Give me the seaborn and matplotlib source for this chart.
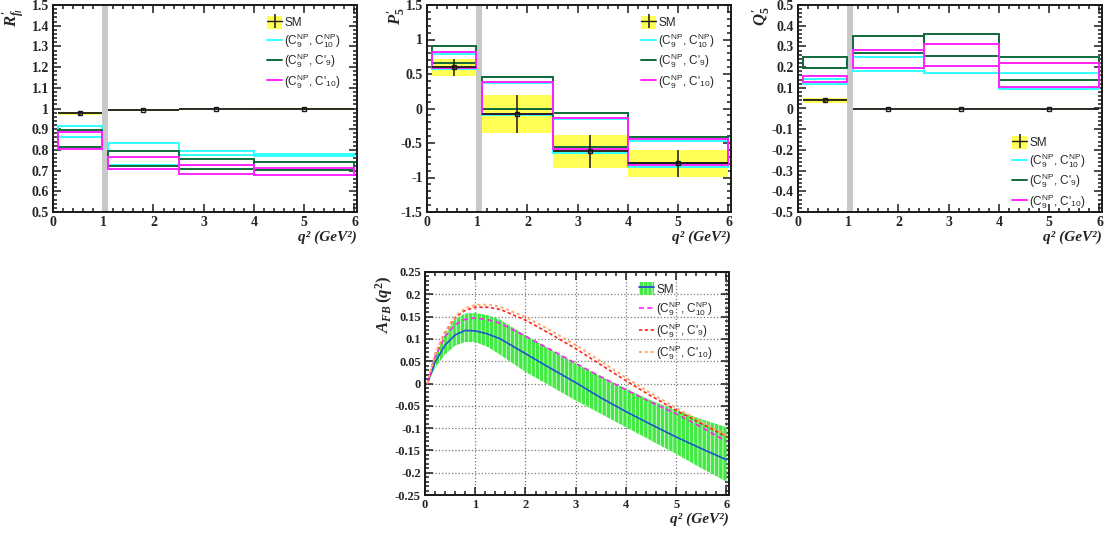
import numpy as np
import matplotlib
matplotlib.use('Agg')
import matplotlib.pyplot as plt
import seaborn as sns
from matplotlib.patches import Rectangle, Patch
from matplotlib.lines import Line2D
from matplotlib.ticker import MultipleLocator, FuncFormatter

sns.set_theme(style='ticks')
plt.rcParams['font.family'] = ['Liberation Serif', 'DejaVu Serif']
plt.rcParams['mathtext.fontset'] = 'custom'
plt.rcParams['mathtext.rm'] = 'Liberation Serif:bold'
plt.rcParams['mathtext.it'] = 'Liberation Serif:italic:bold'
plt.rcParams['mathtext.bf'] = 'Liberation Serif:bold'
plt.rcParams['mathtext.sf'] = 'Liberation Sans'
plt.rcParams['hatch.linewidth'] = 0.5
plt.rcParams['axes.unicode_minus'] = False

# q^2 bins
bin_lo = [0.1, 1.1, 2.5, 4.0]
bin_hi = [0.98, 2.5, 4.0, 6.0]
bin_mid = [0.54, 1.8, 3.25, 5.0]

# R'_{f_l}
rf_sm = [0.977, 0.994, 0.996, 0.997]
rf_sm_lo = [0.971, 0.990, 0.992, 0.993]
rf_sm_hi = [0.983, 0.998, 1.000, 1.001]
rf_c10_lo = [0.861, 0.727, 0.775, 0.771]
rf_c10_hi = [0.917, 0.832, 0.796, 0.780]
rf_c9p_lo = [0.816, 0.724, 0.708, 0.701]
rf_c9p_hi = [0.896, 0.795, 0.755, 0.740]
rf_c10p_lo = [0.803, 0.706, 0.685, 0.680]
rf_c10p_hi = [0.885, 0.764, 0.726, 0.711]

# P'_5
p5_sm = [0.606, -0.08, -0.616, -0.795]
p5_sm_lo = [0.471, -0.36, -0.867, -0.988]
p5_sm_hi = [0.713, 0.191, -0.384, -0.601]
p5_c10_lo = [0.577, -0.09, -0.64, -0.853]
p5_c10_hi = [0.795, 0.365, -0.157, -0.471]
p5_c9p_lo = [0.655, -0.007, -0.553, -0.795]
p5_c9p_hi = [0.90, 0.461, -0.07, -0.418]
p5_c10p_lo = [0.587, -0.08, -0.591, -0.82]
p5_c10p_hi = [0.814, 0.384, -0.133, -0.447]

# Q'_5
q5_sm = [0.039, -0.004, -0.004, -0.004]
q5_sm_lo = [0.027, -0.008, -0.008, -0.008]
q5_sm_hi = [0.051, 0.0, 0.0, 0.0]
q5_c10_lo = [0.117, 0.183, 0.173, 0.094]
q5_c10_hi = [0.141, 0.250, 0.205, 0.170]
q5_c9p_lo = [0.196, 0.267, 0.252, 0.138]
q5_c9p_hi = [0.250, 0.350, 0.358, 0.250]
q5_c10p_lo = [0.130, 0.197, 0.205, 0.105]
q5_c10p_hi = [0.157, 0.283, 0.310, 0.218]

# A_FB(q^2)
afb_q2 = [0.05, 0.2, 0.4, 0.6, 0.8, 1.0, 1.25, 1.5, 2.0, 2.5, 3.0, 3.5, 4.0, 4.5, 5.0, 5.5, 6.0]
afb_sm = [0.0, 0.048, 0.086, 0.109, 0.119, 0.118, 0.111, 0.100, 0.067, 0.034, 0.002,
          -0.032, -0.063, -0.092, -0.120, -0.146, -0.171]
afb_sm_hi = [0.0, 0.060, 0.110, 0.145, 0.157, 0.158, 0.153, 0.143, 0.108, 0.076, 0.045,
             0.016, -0.012, -0.038, -0.060, -0.080, -0.098]
afb_sm_lo = [0.0, 0.035, 0.065, 0.085, 0.093, 0.093, 0.082, 0.064, 0.026, -0.006, -0.038,
             -0.068, -0.098, -0.128, -0.158, -0.190, -0.220]
afb_c10 = [0.0, 0.060, 0.105, 0.132, 0.144, 0.147, 0.143, 0.135, 0.106, 0.076, 0.045,
           0.015, -0.014, -0.042, -0.068, -0.098, -0.130]
afb_c9p = [0.0, 0.065, 0.115, 0.148, 0.164, 0.171, 0.171, 0.166, 0.142, 0.111, 0.078,
           0.042, 0.006, -0.028, -0.060, -0.090, -0.119]
afb_c10p = [0.0, 0.066, 0.117, 0.151, 0.169, 0.176, 0.177, 0.172, 0.149, 0.119, 0.086,
            0.050, 0.013, -0.022, -0.055, -0.086, -0.116]

labels = ['SM',
          r'(C$_{\mathsf{9}}^{\mathsf{NP}}$, C$_{\mathsf{10}}^{\mathsf{NP}}$)',
          r"(C$_{\mathsf{9}}^{\mathsf{NP}}$, C'$_{\mathsf{9}}$)",
          r"(C$_{\mathsf{9}}^{\mathsf{NP}}$, C'$_{\mathsf{10}}$)"]
np_colors = ['#33ffff', '#0f6a3a', '#ff22ff']
yellow = '#ffff55'
band_green = '#44ea44'

W, H = 1105, 537
fig = plt.figure(figsize=(W / 100, H / 100), dpi=100)


def box(l, t, w, h):
    return [l / W, 1 - (t + h) / H, w / W, h / H]


def tick_fmt(v, pos):
    v = round(v, 4)
    if v == 0:
        return '0'
    return f'{v:g}'


def style_axis(ax, ylim, ymaj, ymin, ylabel, labelx, labely=0.99, tsize=10):
    ax.set_xlim(0, 6.05)
    ax.set_ylim(*ylim)
    ax.xaxis.set_major_locator(MultipleLocator(1))
    ax.xaxis.set_minor_locator(MultipleLocator(0.2))
    ax.yaxis.set_major_locator(MultipleLocator(ymaj))
    ax.yaxis.set_minor_locator(MultipleLocator(ymin))
    ax.xaxis.set_major_formatter(FuncFormatter(tick_fmt))
    ax.yaxis.set_major_formatter(FuncFormatter(tick_fmt))
    ax.tick_params(which='both', direction='in', top=True, right=True, width=1.1,
                   color='k', labelsize=tsize, pad=3)
    ax.tick_params(which='major', length=6)
    ax.tick_params(which='minor', length=3)
    for lab in ax.get_xticklabels() + ax.get_yticklabels():
        lab.set_fontweight('bold')
    for s in ax.spines.values():
        s.set_linewidth(1.4)
        s.set_color('k')
    ax.set_xlabel('q² (GeV²)', loc='right', fontstyle='italic', fontweight='bold',
                  fontsize=11, labelpad=1)
    ax.set_ylabel(ylabel, loc='top', fontsize=12)
    ax.yaxis.set_label_coords(labelx, labely)


def draw_bins(ax, sm, sm_lo, sm_hi, boxes):
    ax.axvspan(0.98, 1.1, color='#c8c8c8', lw=0, zorder=1)
    for lo, hi, ylo, yhi in zip(bin_lo, bin_hi, sm_lo, sm_hi):
        ax.add_patch(Rectangle((lo, ylo), hi - lo, yhi - ylo, facecolor=yellow,
                               edgecolor='none', zorder=2))
    for (blo, bhi), col in zip(boxes, np_colors):
        for lo, hi, y0, y1 in zip(bin_lo, bin_hi, blo, bhi):
            ax.add_patch(Rectangle((lo, y0), hi - lo, y1 - y0, fill=False,
                                   edgecolor=col, lw=1.4, zorder=4))
    ax.hlines(sm, bin_lo, bin_hi, color='k', lw=1.3, zorder=5)
    err = [np.subtract(sm, sm_lo), np.subtract(sm_hi, sm)]
    ax.errorbar(bin_mid, sm, yerr=err, fmt='s', ms=3, mfc='none', mec='k', mew=1,
                ecolor='k', elinewidth=1.1, capsize=0, zorder=6)


def bin_legend(ax, anchor):
    sm_h = (Patch(facecolor=yellow, edgecolor='none'),
            Line2D([], [], color='k', lw=1, marker='|', ms=10, mew=1.1))
    hs = [sm_h] + [Line2D([], [], color=c, lw=1.4) for c in np_colors]
    ax.legend(hs, labels, loc='upper left', bbox_to_anchor=anchor, frameon=False,
              prop={'family': 'Liberation Sans', 'size': 8.5}, handlelength=1.2,
              handleheight=1.3, handletextpad=0.2, labelspacing=0.2,
              borderaxespad=0)


ax1 = fig.add_axes(box(53, 5, 304, 207))
draw_bins(ax1, rf_sm, rf_sm_lo, rf_sm_hi,
          [(rf_c10_lo, rf_c10_hi), (rf_c9p_lo, rf_c9p_hi), (rf_c10p_lo, rf_c10p_hi)])
style_axis(ax1, (0.5, 1.5), 0.1, 0.02, r"$R^{\prime}_{f_{l}}$", -0.09, 0.985)
bin_legend(ax1, (0.69, 0.97))

ax2 = fig.add_axes(box(427, 5, 304, 207))
draw_bins(ax2, p5_sm, p5_sm_lo, p5_sm_hi,
          [(p5_c10_lo, p5_c10_hi), (p5_c9p_lo, p5_c9p_hi), (p5_c10p_lo, p5_c10p_hi)])
style_axis(ax2, (-1.5, 1.5), 0.5, 0.1, r"$P^{\prime}_{\mathit{5}}$", -0.063)
bin_legend(ax2, (0.69, 0.97))

ax3 = fig.add_axes(box(798, 5, 304, 207))
draw_bins(ax3, q5_sm, q5_sm_lo, q5_sm_hi,
          [(q5_c10_lo, q5_c10_hi), (q5_c9p_lo, q5_c9p_hi), (q5_c10p_lo, q5_c10p_hi)])
style_axis(ax3, (-0.5, 0.5), 0.1, 0.02, r"$Q^{\prime}_{\mathit{5}}$", -0.082)
bin_legend(ax3, (0.69, 0.39))

ax4 = fig.add_axes(box(425, 272, 304, 223))
ax4.grid(True, which='major', ls=':', color='#777777', lw=0.9, zorder=0)
ax4.fill_between(afb_q2, afb_sm_lo, afb_sm_hi, facecolor=band_green, edgecolor='white',
                 hatch='||||', lw=0, zorder=2)
sns.lineplot(x=afb_q2, y=afb_sm, ax=ax4, color='#1f55d0', lw=1.2, zorder=5)
sns.lineplot(x=afb_q2, y=afb_c10, ax=ax4, color='#ff22ff', lw=1.2, linestyle=(0, (3, 2)), zorder=6)
sns.lineplot(x=afb_q2, y=afb_c9p, ax=ax4, color='#ff2222', lw=1.2, linestyle=(0, (2, 1.5)), zorder=6)
sns.lineplot(x=afb_q2, y=afb_c10p, ax=ax4, color='#ffaa66', lw=1.4, linestyle=(0, (1.5, 1.5)), zorder=6)
style_axis(ax4, (-0.25, 0.25), 0.05, 0.01, r"$A_{FB}\,(q^{\mathit{2}})$", -0.1, 0.985, 9)
ax4.set_axisbelow(True)
hs4 = [(Patch(facecolor=band_green, edgecolor='white', hatch='||||', lw=0),
        Line2D([], [], color='#1f55d0', lw=1.3)),
       Line2D([], [], color='#ff22ff', lw=1.2, ls=(0, (3, 2))),
       Line2D([], [], color='#ff2222', lw=1.2, ls=(0, (2, 1.5))),
       Line2D([], [], color='#ffaa66', lw=1.4, ls=(0, (1.5, 1.5)))]
ax4.legend(hs4, labels, loc='upper left', bbox_to_anchor=(0.69, 0.975), frameon=False,
           prop={'family': 'Liberation Sans', 'size': 8.5}, handlelength=1.2,
           handleheight=1.3, handletextpad=0.2, labelspacing=0.35, borderaxespad=0)

fig.savefig('out.png', dpi=100)
